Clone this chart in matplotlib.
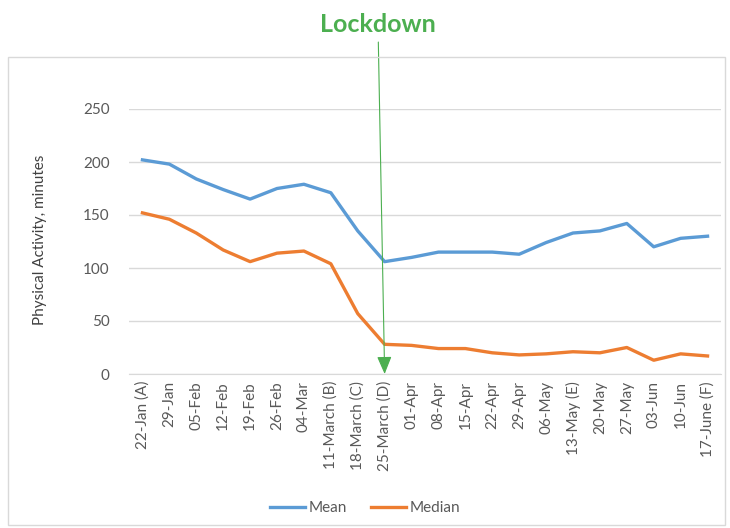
import matplotlib.pyplot as plt
from matplotlib.patches import Rectangle

plt.rcParams['font.family'] = ['Lato', 'DejaVu Sans']

dates = ['22-Jan (A)', '29-Jan', '05-Feb', '12-Feb', '19-Feb', '26-Feb', '04-Mar',
         '11-March (B)', '18-March (C)', '25-March (D)', '01-Apr', '08-Apr', '15-Apr',
         '22-Apr', '29-Apr', '06-May', '13-May (E)', '20-May', '27-May', '03-Jun',
         '10-Jun', '17-June (F)']
mean = [202, 198, 184, 174, 165, 175, 179, 171, 135, 106, 110, 115, 115, 115,
        113, 124, 133, 135, 142, 120, 128, 130]
median = [152, 146, 133, 117, 106, 114, 116, 104, 57, 28, 27, 24, 24, 20,
          18, 19, 21, 20, 25, 13, 19, 17]
lockdown_idx = 9

W, H = 730, 528
fig = plt.figure(figsize=(W / 100, H / 100), dpi=100)

# outer chart border
fig.patches.append(Rectangle((8 / W, 1 - 525 / H), (725 - 8) / W, (525 - 57) / H,
                             transform=fig.transFigure, fill=False,
                             edgecolor='#d9d9d9', lw=1))

ax = fig.add_axes([129 / W, 1 - 374 / H, (721 - 129) / W, (374 - 109) / H])
x = range(len(dates))
ax.plot(x, mean, color='#5B9BD5', lw=2.4, label='Mean', solid_joinstyle='round', clip_on=False)
ax.plot(x, median, color='#ED7D31', lw=2.4, label='Median', solid_joinstyle='round', clip_on=False)

ax.set_xlim(-0.5, len(dates) - 0.5)
ax.set_ylim(0, 250)
ax.set_yticks(range(0, 251, 50))
ax.set_xticks(list(x))
ax.set_xticklabels(dates, rotation=90)
ax.tick_params(axis='both', length=0, labelsize=11, colors='#595959')
ax.tick_params(axis='y', pad=14)
ax.tick_params(axis='x', pad=5)
ax.grid(axis='y', color='#d9d9d9', lw=1)
ax.set_axisbelow(True)
for s in ['top', 'left', 'right']:
    ax.spines[s].set_visible(False)
ax.spines['bottom'].set_color('#d9d9d9')

fig.text(40 / W, 1 - 240 / H, 'Physical Activity, minutes', rotation=90,
         ha='center', va='center', fontsize=11, color='#404040')

ax.annotate('Lockdown', xy=(lockdown_idx, 0), xycoords='data',
            xytext=(378 / W, 1 - 25 / H), textcoords='figure fraction',
            ha='center', va='center', fontsize=18, fontweight='bold', color='#4CAF50',
            arrowprops=dict(arrowstyle='-|>,head_width=0.25,head_length=0.6',
                            color='#4CAF50', lw=0.8, shrinkA=2, shrinkB=0))

fig.legend(loc='center', bbox_to_anchor=(0.5, 1 - 508 / H), ncol=2, frameon=False,
           fontsize=11, handlelength=2.3, handletextpad=0.2, columnspacing=1.6,
           labelcolor='#595959')

fig.savefig('out.png', dpi=100)
